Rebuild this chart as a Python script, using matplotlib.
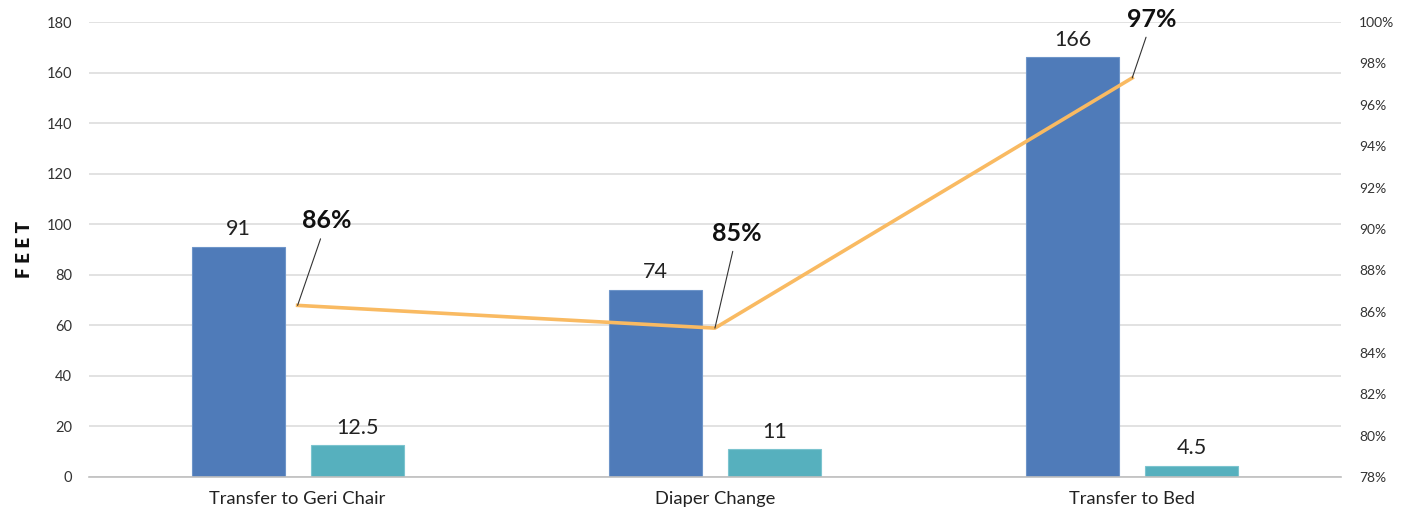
import matplotlib
matplotlib.use("Agg")
import matplotlib.pyplot as plt
import numpy as np

plt.rcParams['font.family'] = ['Lato', 'DejaVu Sans']

categories = ['Transfer to Geri Chair', 'Diaper Change', 'Transfer to Bed']
feet_before = [91, 74, 166]
feet_after = [12.5, 11, 4.5]
reduction_pct = [86.3, 85.2, 97.3]
pct_labels = ['86%', '85%', '97%']

blue = '#4F7BB9'
teal = '#56B0BE'
orange = '#F9BA62'

fig = plt.figure(figsize=(14.21, 5.14), dpi=100)
ax = fig.add_axes([0.0626, 0.072, 0.881, 0.885])
ax2 = ax.twinx()

x = np.arange(len(categories))
w = 0.223
off = 0.1426
ax.bar(x - off, feet_before, w, color=blue, edgecolor='#6E95C9', linewidth=0.8, zorder=2)
ax.bar(x + off, feet_after, w, color=teal, edgecolor='#7CC4CF', linewidth=0.8, zorder=2)

for xi, v in zip(x - off, feet_before):
    ax.text(xi, v + 3, f'{v:g}', ha='center', va='bottom', fontsize=15.5, color='#222222')
for xi, v in zip(x + off, feet_after):
    ax.text(xi, v + 3, f'{v:g}', ha='center', va='bottom', fontsize=15.5, color='#222222')

ax.set_xlim(-0.5, 2.5)
ax.set_ylim(0, 180)
ax.set_yticks(np.arange(0, 181, 20))
ax.yaxis.grid(True, color='#DDDDDD', linewidth=1.2, zorder=0)
ax.set_axisbelow(True)
ax.set_xticks(x)
ax.set_xticklabels(categories, fontsize=13.2, color='#222222')
ax.tick_params(axis='x', length=0, pad=10)
ax.tick_params(axis='y', length=0, pad=12, labelsize=10.5, colors='#333333')
for s in ['top', 'right', 'left']:
    ax.spines[s].set_visible(False)
ax.spines['bottom'].set_color('#BFBFBF')
ax.spines['bottom'].set_linewidth(1.2)
ax.set_ylabel('F E E T', fontsize=13.5, fontweight='heavy', color='#111111', labelpad=10)

ax2.plot(x, reduction_pct, color=orange, linewidth=2.6, zorder=3)
ax2.set_ylim(78, 100)
ax2.set_yticks(np.arange(78, 101, 2))
ax2.set_yticklabels([f'{t}%' for t in range(78, 101, 2)])
ax2.tick_params(axis='y', length=0, pad=13, labelsize=10, colors='#333333')
for s in ['top', 'right', 'left', 'bottom']:
    ax2.spines[s].set_visible(False)

text_pos = [(0.07, 90.4), (0.053, 89.8), (0.048, 100.15)]
for xi, v, lab, (dx, ty) in zip(x, reduction_pct, pct_labels, text_pos):
    ax2.annotate(lab, xy=(xi, v), xytext=(xi + dx, ty), ha='center', va='center',
                 fontsize=18, fontweight='bold', color='#111111',
                 arrowprops=dict(arrowstyle='-', color='#333333', lw=0.8,
                                 shrinkA=3, shrinkB=0))

fig.savefig('out.png', dpi=100)
